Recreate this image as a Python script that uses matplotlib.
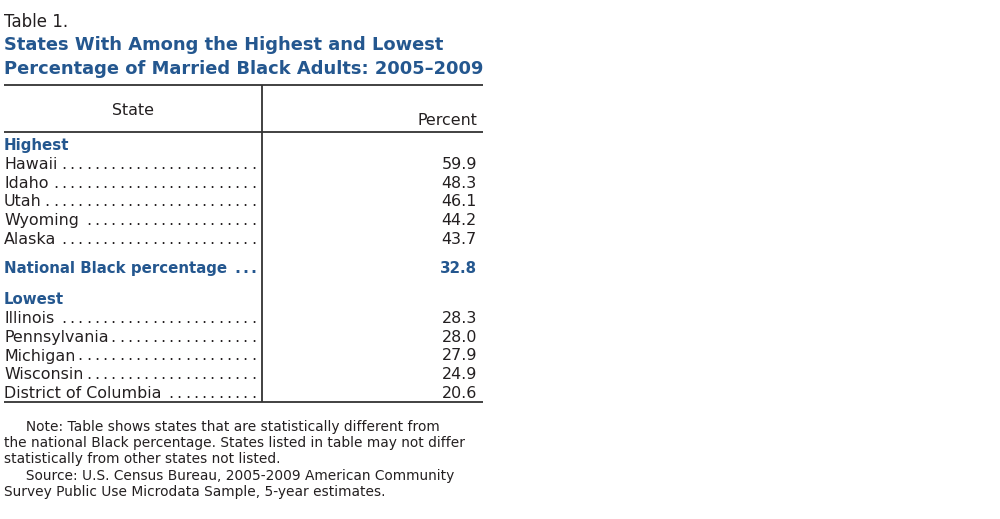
import matplotlib
matplotlib.use('Agg')
import matplotlib.pyplot as plt

plt.rcParams['font.family'] = ['DejaVu Sans']

table_label = 'Table 1.'
title_lines = ['States With Among the Highest and Lowest',
               'Percentage of Married Black Adults: 2005\u20132009']
col_headers = ['State', 'Percent']

high_states = ['Hawaii', 'Idaho', 'Utah', 'Wyoming', 'Alaska']
high_values = [59.9, 48.3, 46.1, 44.2, 43.7]
national_label = 'National Black percentage'
national_value = 32.8
low_states = ['Illinois', 'Pennsylvania', 'Michigan', 'Wisconsin', 'District of Columbia']
low_values = [28.3, 28.0, 27.9, 24.9, 20.6]

note_lines = [
    '     Note: Table shows states that are statistically different from',
    'the national Black percentage. States listed in table may not differ',
    'statistically from other states not listed.',
    '     Source: U.S. Census Bureau, 2005-2009 American Community',
    'Survey Public Use Microdata Sample, 5-year estimates.',
]

BLUE = '#24578f'
INK = '#231f20'
RULE = '#333333'

fig = plt.figure(figsize=(10, 5.19), dpi=100)
ax = fig.add_axes([0, 0, 1, 1])
ax.set_xlim(0, 1000)
ax.set_ylim(519, 0)
ax.axis('off')

x_left = 4
x_right = 483
x_div = 262
x_num = 477
x_dots_end = 253.5
body_fs = 11.4
bold_fs = 10.8
note_fs = 9.95

renderer = fig.canvas.get_renderer()


def text_right_px(t):
    bb = t.get_window_extent(renderer=renderer)
    inv = ax.transData.inverted()
    return inv.transform((bb.x1, bb.y0))[0]


def leader_row(label, value, y, bold=False):
    color = BLUE if bold else INK
    weight = 'bold' if bold else 'normal'
    fs = bold_fs if bold else body_fs
    t = ax.text(x_left, y, label, fontsize=fs, color=color,
                fontweight=weight, va='baseline', ha='left')
    end = text_right_px(t)
    xd = x_dots_end
    while xd > end + 2.5:
        ax.text(xd, y, '.', fontsize=body_fs, color=color, fontweight=weight,
                va='baseline', ha='center')
        xd -= 8.25
    ax.text(x_num, y, f'{value:.1f}', fontsize=fs, color=color,
            fontweight=weight, va='baseline', ha='right')


# heading
ax.text(x_left, 26.7, table_label, fontsize=12, color=INK, va='baseline')
ax.text(x_left, 50, title_lines[0], fontsize=12.85, color=BLUE,
        fontweight='bold', va='baseline')
ax.text(x_left, 74, title_lines[1], fontsize=12.85, color=BLUE,
        fontweight='bold', va='baseline')

# rules
ax.plot([x_left, x_right], [85.3, 85.3], color=RULE, lw=1.3, solid_capstyle='butt')
ax.plot([x_left, x_right], [131.7, 131.7], color=RULE, lw=1.3, solid_capstyle='butt')
ax.plot([x_left, x_right], [401.7, 401.7], color=RULE, lw=1.3, solid_capstyle='butt')
ax.plot([x_div, x_div], [85.3, 401.7], color=RULE, lw=1.3, solid_capstyle='butt')

ax.text((x_left + x_div) / 2, 115, col_headers[0], fontsize=body_fs,
        color=INK, va='baseline', ha='center')
ax.text(x_num, 125, col_headers[1], fontsize=body_fs, color=INK,
        va='baseline', ha='right')

# body
step = 18.55
ax.text(x_left, 150, 'Highest', fontsize=bold_fs, color=BLUE,
        fontweight='bold', va='baseline')
for i, (s, v) in enumerate(zip(high_states, high_values)):
    leader_row(s, v, 169.4 + i * step)

leader_row(national_label, national_value, 273.3, bold=True)

ax.text(x_left, 304.3, 'Lowest', fontsize=bold_fs, color=BLUE,
        fontweight='bold', va='baseline')
for i, (s, v) in enumerate(zip(low_states, low_values)):
    leader_row(s, v, 323.4 + i * step)

# notes
for i, line in enumerate(note_lines):
    ax.text(x_left, 430.7 + i * 16.4, line, fontsize=note_fs, color=INK,
            va='baseline')

fig.savefig('out.png', dpi=100, facecolor='white')
